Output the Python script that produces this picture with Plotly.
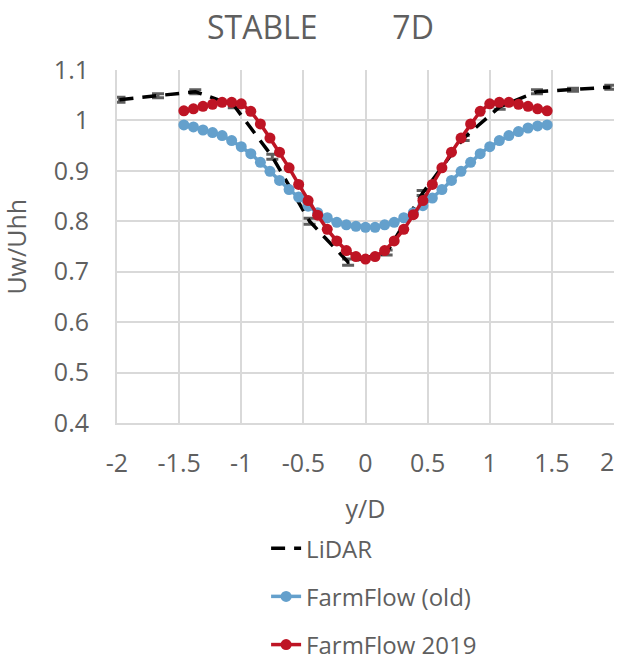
import plotly.graph_objects as go

# LiDAR measurements
lidar_x = [-1.98, -1.67, -1.37, -1.06, -0.75, -0.45, -0.14, 0.17, 0.46, 0.79, 1.08, 1.38, 1.67, 1.97]
lidar_y = [1.041, 1.049, 1.057, 1.030, 0.928, 0.800, 0.719, 0.738, 0.856, 0.965, 1.027, 1.057, 1.061, 1.066]
lidar_err = [0.005, 0.004, 0.004, 0.005, 0.005, 0.006, 0.006, 0.005, 0.005, 0.005, 0.005, 0.004, 0.003, 0.004]

# FarmFlow positions (y/D)
ff_x = [-1.462, -1.385, -1.308, -1.231, -1.154, -1.077, -1.000, -0.923, -0.846, -0.769,
        -0.692, -0.615, -0.538, -0.462, -0.385, -0.308, -0.231, -0.154, -0.077, 0.0,
        0.077, 0.154, 0.231, 0.308, 0.385, 0.462, 0.538, 0.615, 0.692, 0.769,
        0.846, 0.923, 1.000, 1.077, 1.154, 1.231, 1.308, 1.385, 1.462]

ff_old = [0.991, 0.987, 0.981, 0.976, 0.970, 0.960, 0.948, 0.934, 0.917, 0.899,
          0.881, 0.863, 0.848, 0.830, 0.817, 0.807, 0.798, 0.793, 0.790, 0.788,
          0.788, 0.793, 0.798, 0.807, 0.817, 0.831, 0.846, 0.863, 0.881, 0.899,
          0.917, 0.934, 0.948, 0.960, 0.970, 0.978, 0.985, 0.989, 0.991]

ff_2019 = [1.019, 1.023, 1.028, 1.032, 1.036, 1.036, 1.033, 1.018, 0.993, 0.965,
           0.937, 0.906, 0.873, 0.841, 0.812, 0.784, 0.761, 0.742, 0.730, 0.725,
           0.730, 0.742, 0.761, 0.784, 0.813, 0.841, 0.873, 0.906, 0.937, 0.965,
           0.993, 1.018, 1.033, 1.036, 1.036, 1.032, 1.028, 1.023, 1.019]

title_text = "STABLE" + "&nbsp;" * 9 + "7D"
x_ticks = [-2, -1.5, -1, -0.5, 0, 0.5, 1, 1.5, 2]
x_ticktext = ["-2", "-1.5", "-1", "-0.5", "0", "0.5", "1", "1.5", ""]
x_last_label = "2"
y_ticks = [0.4, 0.5, 0.6, 0.7, 0.8, 0.9, 1.0, 1.1]
y_ticktext = ["0.4", "0.5", "0.6", "0.7", "0.8", "0.9", "1", "1.1"]

FONT = "Open Sans"
GRAY = "#5f5f5f"
BLUE = "#64a0cc"
RED = "#be1424"
FS = 25

fig = go.Figure()
fig.add_trace(go.Scatter(
    x=lidar_x, y=lidar_y, name="LiDAR", mode="lines",
    line=dict(color="black", width=3.5, dash="14px,9px"),
    error_y=dict(type="data", array=lidar_err, color=GRAY, thickness=3, width=6),
    legendgroup="a"))
fig.add_trace(go.Scatter(
    x=ff_x, y=ff_old, name="FarmFlow (old)", mode="lines+markers",
    line=dict(color=BLUE, width=3.5), marker=dict(color=BLUE, size=11),
    legendgroup="b"))
fig.add_trace(go.Scatter(
    x=ff_x, y=ff_2019, name="FarmFlow 2019", mode="lines+markers",
    line=dict(color=RED, width=3.5), marker=dict(color=RED, size=11),
    legendgroup="c"))

fig.update_layout(
    width=621, height=660,
    margin=dict(l=117, r=7, t=70, b=237, autoexpand=False),
    paper_bgcolor="white", plot_bgcolor="white",
    font=dict(family=FONT, color=GRAY, size=FS),
    title=dict(text=title_text, x=0.516, xanchor="center", y=0.958, yanchor="middle",
               font=dict(family=FONT, size=32, color=GRAY)),
    xaxis=dict(range=[-2, 2], tickvals=x_ticks, ticktext=x_ticktext,
               showgrid=True, gridcolor="#d9d9d9", gridwidth=2,
               showline=True, linecolor="#d9d9d9", linewidth=2, mirror=False,
               zeroline=False, ticks="", ticklabelstandoff=17, automargin=False,
               ticklabeloverflow="allow",
               tickfont=dict(size=FS, color=GRAY),
               title=dict(text="y/D", standoff=22, font=dict(size=FS, color=GRAY))),
    yaxis=dict(range=[0.4, 1.1], tickvals=y_ticks, ticktext=y_ticktext,
               showgrid=True, gridcolor="#d9d9d9", gridwidth=2,
               showline=True, linecolor="#d9d9d9", linewidth=2,
               zeroline=False, ticks="", ticklabelstandoff=21, automargin=False,
               ticklabeloverflow="allow",
               tickfont=dict(size=FS, color=GRAY)),
    annotations=[
        dict(text="Uw/Uhh", textangle=-90, xref="paper", yref="paper",
             x=-0.205, y=0.5, xanchor="center", yanchor="middle",
             showarrow=False, font=dict(size=FS, color=GRAY)),
        dict(text=x_last_label, xref="x", yref="paper", x=x_ticks[-1], y=0,
             xanchor="right", yanchor="middle", xshift=2, yshift=-38,
             showarrow=False, font=dict(size=FS, color=GRAY)),
    ],
    legend=dict(orientation="v", x=0.30, xanchor="left", y=-0.292, yanchor="top",
                font=dict(size=24, color=GRAY), tracegroupgap=14,
                bgcolor="rgba(0,0,0,0)"),
    showlegend=True,
)

fig.write_html("out.html",
               config={"displayModeBar": False},
               post_script="document.body.style.margin='0';document.body.style.padding='0';")
